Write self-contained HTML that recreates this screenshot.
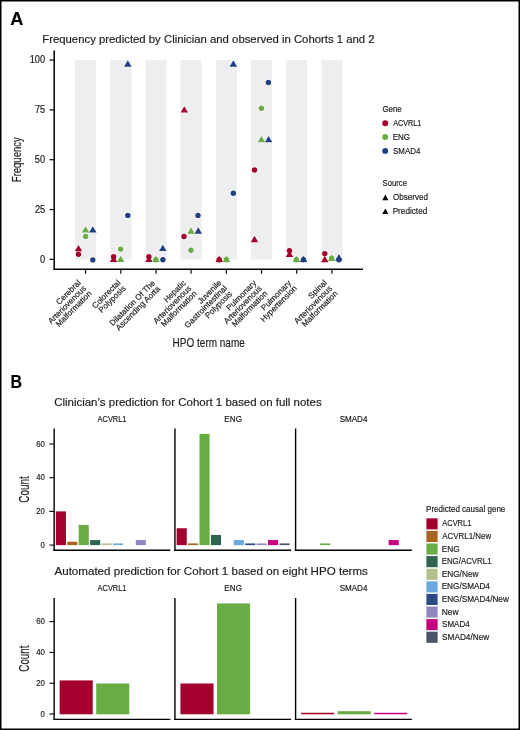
<!DOCTYPE html>
<html><head><meta charset="utf-8"><title>Figure</title>
<style>
html,body{margin:0;padding:0;background:#fff;width:520px;height:730px;overflow:hidden;}
svg{display:block;will-change:transform;}
text{font-family:"Liberation Sans", sans-serif;stroke:#1c1c1c;stroke-width:0.18px;}
</style></head><body>
<svg width="520" height="730" viewBox="0 0 520 730">
<rect x="0.75" y="0.75" width="518.5" height="728.5" fill="none" stroke="#000" stroke-width="1.5"/>
<text x="10.32" y="24.75" font-size="17.8" font-weight="bold" stroke="none" fill="#000" textLength="13.13" lengthAdjust="spacingAndGlyphs">A</text>
<text x="42.21" y="42.9" font-size="11.2" stroke-width="0.04" fill="#1c1c1c" textLength="332.45" lengthAdjust="spacingAndGlyphs">Frequency predicted by Clinician and observed in Cohorts 1 and 2</text>
<rect x="75" y="60.05" width="21" height="199.45" fill="#eeeef1"/>
<rect x="110.35" y="60.05" width="21" height="199.45" fill="#eeeef1"/>
<rect x="145.6" y="60.05" width="21" height="199.45" fill="#eeeef1"/>
<rect x="180.6" y="60.05" width="21" height="199.45" fill="#eeeef1"/>
<rect x="215.85" y="60.05" width="21" height="199.45" fill="#eeeef1"/>
<rect x="251" y="60.05" width="21" height="199.45" fill="#eeeef1"/>
<rect x="286.2" y="60.05" width="21" height="199.45" fill="#eeeef1"/>
<rect x="321.4" y="60.05" width="21" height="199.45" fill="#eeeef1"/>
<line x1="54.2" y1="50.6" x2="54.2" y2="270" stroke="#000" stroke-width="1.5"/>
<line x1="53.45" y1="269.3" x2="363" y2="269.3" stroke="#000" stroke-width="1.4"/>
<line x1="49.6" y1="259.35" x2="54" y2="259.35" stroke="#000" stroke-width="1.2"/>
<text x="39.91" y="262.7" font-size="10.0" fill="#1c1c1c" textLength="5.12" lengthAdjust="spacingAndGlyphs">0</text>
<line x1="49.6" y1="209.53" x2="54" y2="209.53" stroke="#000" stroke-width="1.2"/>
<text x="34.94" y="212.88" font-size="10.0" fill="#1c1c1c" textLength="10.23" lengthAdjust="spacingAndGlyphs">25</text>
<line x1="49.6" y1="159.7" x2="54" y2="159.7" stroke="#000" stroke-width="1.2"/>
<text x="34.8" y="163.05" font-size="10.0" fill="#1c1c1c" textLength="10.23" lengthAdjust="spacingAndGlyphs">50</text>
<line x1="49.6" y1="109.88" x2="54" y2="109.88" stroke="#000" stroke-width="1.2"/>
<text x="34.94" y="113.23" font-size="10.0" fill="#1c1c1c" textLength="10.23" lengthAdjust="spacingAndGlyphs">75</text>
<line x1="49.6" y1="60.05" x2="54" y2="60.05" stroke="#000" stroke-width="1.2"/>
<text x="29.68" y="63.4" font-size="10.0" fill="#1c1c1c" textLength="15.35" lengthAdjust="spacingAndGlyphs">100</text>
<line x1="85.5" y1="269.8" x2="85.5" y2="273.8" stroke="#000" stroke-width="1.15"/>
<line x1="120.85" y1="269.8" x2="120.85" y2="273.8" stroke="#000" stroke-width="1.15"/>
<line x1="156.1" y1="269.8" x2="156.1" y2="273.8" stroke="#000" stroke-width="1.15"/>
<line x1="191.1" y1="269.8" x2="191.1" y2="273.8" stroke="#000" stroke-width="1.15"/>
<line x1="226.35" y1="269.8" x2="226.35" y2="273.8" stroke="#000" stroke-width="1.15"/>
<line x1="261.5" y1="269.8" x2="261.5" y2="273.8" stroke="#000" stroke-width="1.15"/>
<line x1="296.7" y1="269.8" x2="296.7" y2="273.8" stroke="#000" stroke-width="1.15"/>
<line x1="331.9" y1="269.8" x2="331.9" y2="273.8" stroke="#000" stroke-width="1.15"/>
<g fill="#fff" stroke="#fff" stroke-width="1.1" stroke-linejoin="round" opacity="0.9"><circle cx="78.5" cy="254.2" r="2.7"/><path d="M78.5 244.95L82.25 251.25L74.75 251.25Z"/><circle cx="85.6" cy="236.4" r="2.7"/><path d="M85.5 226.3L89.25 232.6L81.75 232.6Z"/><circle cx="92.8" cy="259.9" r="2.7"/><path d="M92.8 226.3L96.55 232.6L89.05 232.6Z"/><circle cx="113.6" cy="256.7" r="2.7"/><path d="M113.6 255.75L117.35 262.05L109.85 262.05Z"/><circle cx="120.6" cy="249.1" r="2.7"/><path d="M120.7 255.75L124.45 262.05L116.95 262.05Z"/><circle cx="127.8" cy="215.4" r="2.7"/><path d="M127.8 60.35L131.55 66.65L124.05 66.65Z"/><circle cx="148.9" cy="256.7" r="2.7"/><path d="M148.9 255.75L152.65 262.05L145.15 262.05Z"/><circle cx="155.9" cy="259.8" r="2.7"/><path d="M155.9 255.75L159.65 262.05L152.15 262.05Z"/><circle cx="162.9" cy="259.7" r="2.7"/><path d="M162.8 244.65L166.55 250.95L159.05 250.95Z"/><circle cx="184" cy="236.5" r="2.7"/><path d="M184.3 106.25L188.05 112.55L180.55 112.55Z"/><circle cx="191" cy="250.3" r="2.7"/><path d="M191 227.35L194.75 233.65L187.25 233.65Z"/><circle cx="198" cy="215.4" r="2.7"/><path d="M198.3 227.35L202.05 233.65L194.55 233.65Z"/><circle cx="219.2" cy="259.8" r="2.7"/><path d="M219.2 255.75L222.95 262.05L215.45 262.05Z"/><circle cx="226.4" cy="259.8" r="2.7"/><path d="M226.4 255.75L230.15 262.05L222.65 262.05Z"/><circle cx="233.35" cy="193.2" r="2.7"/><path d="M233.35 60.35L237.1 66.65L229.6 66.65Z"/><circle cx="254.5" cy="169.95" r="2.7"/><path d="M254.5 235.85L258.25 242.15L250.75 242.15Z"/><circle cx="261.45" cy="108.2" r="2.7"/><path d="M261.4 136.05L265.15 142.35L257.65 142.35Z"/><circle cx="268.4" cy="82.5" r="2.7"/><path d="M268.6 136.05L272.35 142.35L264.85 142.35Z"/><circle cx="289.5" cy="250.7" r="2.7"/><path d="M289.5 250.65L293.25 256.95L285.75 256.95Z"/><circle cx="296.4" cy="259.8" r="2.7"/><path d="M296.4 255.75L300.15 262.05L292.65 262.05Z"/><circle cx="303.5" cy="259.8" r="2.7"/><path d="M303.5 255.75L307.25 262.05L299.75 262.05Z"/><circle cx="324.8" cy="253.6" r="2.7"/><path d="M324.8 255.85L328.55 262.15L321.05 262.15Z"/><circle cx="331.6" cy="258.1" r="2.7"/><path d="M331.6 254.75L335.35 261.05L327.85 261.05Z"/><circle cx="338.9" cy="259.8" r="2.7"/><path d="M338.9 254.1L342.65 260.4L335.15 260.4Z"/></g>
<circle cx="78.5" cy="254.2" r="2.7" fill="#a4002b"/>
<path d="M78.5 244.95L82.25 251.25L74.75 251.25Z" fill="#a4002b"/>
<circle cx="85.6" cy="236.4" r="2.7" fill="#69ac43"/>
<path d="M85.5 226.3L89.25 232.6L81.75 232.6Z" fill="#69ac43"/>
<circle cx="92.8" cy="259.9" r="2.7" fill="#213f80"/>
<path d="M92.8 226.3L96.55 232.6L89.05 232.6Z" fill="#213f80"/>
<circle cx="113.6" cy="256.7" r="2.7" fill="#a4002b"/>
<path d="M113.6 255.75L117.35 262.05L109.85 262.05Z" fill="#a4002b"/>
<circle cx="120.6" cy="249.1" r="2.7" fill="#69ac43"/>
<path d="M120.7 255.75L124.45 262.05L116.95 262.05Z" fill="#69ac43"/>
<circle cx="127.8" cy="215.4" r="2.7" fill="#213f80"/>
<path d="M127.8 60.35L131.55 66.65L124.05 66.65Z" fill="#213f80"/>
<circle cx="148.9" cy="256.7" r="2.7" fill="#a4002b"/>
<path d="M148.9 255.75L152.65 262.05L145.15 262.05Z" fill="#a4002b"/>
<circle cx="155.9" cy="259.8" r="2.7" fill="#69ac43"/>
<path d="M155.9 255.75L159.65 262.05L152.15 262.05Z" fill="#69ac43"/>
<circle cx="162.9" cy="259.7" r="2.7" fill="#213f80"/>
<path d="M162.8 244.65L166.55 250.95L159.05 250.95Z" fill="#213f80"/>
<circle cx="184" cy="236.5" r="2.7" fill="#a4002b"/>
<path d="M184.3 106.25L188.05 112.55L180.55 112.55Z" fill="#a4002b"/>
<circle cx="191" cy="250.3" r="2.7" fill="#69ac43"/>
<path d="M191 227.35L194.75 233.65L187.25 233.65Z" fill="#69ac43"/>
<circle cx="198" cy="215.4" r="2.7" fill="#213f80"/>
<path d="M198.3 227.35L202.05 233.65L194.55 233.65Z" fill="#213f80"/>
<circle cx="219.2" cy="259.8" r="2.7" fill="#a4002b"/>
<path d="M219.2 255.75L222.95 262.05L215.45 262.05Z" fill="#a4002b"/>
<circle cx="226.4" cy="259.8" r="2.7" fill="#69ac43"/>
<path d="M226.4 255.75L230.15 262.05L222.65 262.05Z" fill="#69ac43"/>
<circle cx="233.35" cy="193.2" r="2.7" fill="#213f80"/>
<path d="M233.35 60.35L237.1 66.65L229.6 66.65Z" fill="#213f80"/>
<circle cx="254.5" cy="169.95" r="2.7" fill="#a4002b"/>
<path d="M254.5 235.85L258.25 242.15L250.75 242.15Z" fill="#a4002b"/>
<circle cx="261.45" cy="108.2" r="2.7" fill="#69ac43"/>
<path d="M261.4 136.05L265.15 142.35L257.65 142.35Z" fill="#69ac43"/>
<circle cx="268.4" cy="82.5" r="2.7" fill="#213f80"/>
<path d="M268.6 136.05L272.35 142.35L264.85 142.35Z" fill="#213f80"/>
<circle cx="289.5" cy="250.7" r="2.7" fill="#a4002b"/>
<path d="M289.5 250.65L293.25 256.95L285.75 256.95Z" fill="#a4002b"/>
<circle cx="296.4" cy="259.8" r="2.7" fill="#69ac43"/>
<path d="M296.4 255.75L300.15 262.05L292.65 262.05Z" fill="#69ac43"/>
<circle cx="303.5" cy="259.8" r="2.7" fill="#213f80"/>
<path d="M303.5 255.75L307.25 262.05L299.75 262.05Z" fill="#213f80"/>
<circle cx="324.8" cy="253.6" r="2.7" fill="#a4002b"/>
<path d="M324.8 255.85L328.55 262.15L321.05 262.15Z" fill="#a4002b"/>
<circle cx="331.6" cy="258.1" r="2.7" fill="#69ac43"/>
<path d="M331.6 254.75L335.35 261.05L327.85 261.05Z" fill="#69ac43"/>
<circle cx="338.9" cy="259.8" r="2.7" fill="#213f80"/>
<path d="M338.9 254.1L342.65 260.4L335.15 260.4Z" fill="#213f80"/>
<g transform="translate(80.95,283.6) rotate(-45)" font-size="8.1" fill="#1c1c1c" stroke-width="0.15"><text x="-30.53" y="0">Cerebral</text><text x="-49.72" y="7.7">Arteriovenous</text><text x="-46.36" y="15.4">Malformation</text></g>
<g transform="translate(120.65,283.6) rotate(-45)" font-size="8.1" fill="#1c1c1c" stroke-width="0.15"><text x="-35.93" y="0">Colorectal</text><text x="-34.41" y="7.7">Polyposis</text></g>
<g transform="translate(155.55,283.6) rotate(-45)" font-size="8.1" fill="#1c1c1c" stroke-width="0.15"><text x="-60.45" y="0">Dilatation Of The</text><text x="-59.49" y="7.7">Ascending Aorta</text></g>
<g transform="translate(186.2,283.6) rotate(-45)" font-size="8.1" fill="#1c1c1c" stroke-width="0.15"><text x="-27.34" y="0">Hepatic</text><text x="-49.72" y="7.7">Arteriovenous</text><text x="-46.36" y="15.4">Malformation</text></g>
<g transform="translate(221.65,283.6) rotate(-45)" font-size="8.1" fill="#1c1c1c" stroke-width="0.15"><text x="-29.39" y="0">Juvenile</text><text x="-55.74" y="7.7">Gastrointestinal</text><text x="-34.41" y="15.4">Polyposis</text></g>
<g transform="translate(256.8,283.6) rotate(-45)" font-size="8.1" fill="#1c1c1c" stroke-width="0.15"><text x="-38.72" y="0">Pulmonary</text><text x="-49.72" y="7.7">Arteriovenous</text><text x="-46.36" y="15.4">Malformation</text></g>
<g transform="translate(291.7,283.6) rotate(-45)" font-size="8.1" fill="#1c1c1c" stroke-width="0.15"><text x="-38.72" y="0">Pulmonary</text><text x="-47.27" y="7.7">Hypertension</text></g>
<g transform="translate(327,283.6) rotate(-45)" font-size="8.1" fill="#1c1c1c" stroke-width="0.15"><text x="-21.98" y="0">Spinal</text><text x="-49.72" y="7.7">Arteriovenous</text><text x="-46.36" y="15.4">Malformation</text></g>
<text transform="translate(20.9,182.14) rotate(-90)" font-size="13.3" fill="#1c1c1c" textLength="44.84" lengthAdjust="spacingAndGlyphs">Frequency</text>
<text x="172.62" y="346.7" font-size="13.3" fill="#1c1c1c" textLength="72.19" lengthAdjust="spacingAndGlyphs">HPO term name</text>
<text x="382.43" y="111.6" font-size="9.0" stroke-width="0.08" fill="#1c1c1c" textLength="19.29" lengthAdjust="spacingAndGlyphs">Gene</text>
<circle cx="385.2" cy="123.25" r="2.95" fill="#a4002b"/>
<text x="393.3" y="126.25" font-size="9.0" fill="#1c1c1c" textLength="27.99" lengthAdjust="spacingAndGlyphs">ACVRL1</text>
<circle cx="385.2" cy="137.07" r="2.95" fill="#69ac43"/>
<text x="392.67" y="140.07" font-size="9.0" fill="#1c1c1c" textLength="17.43" lengthAdjust="spacingAndGlyphs">ENG</text>
<circle cx="385.2" cy="150.89" r="2.95" fill="#213f80"/>
<text x="393.05" y="153.89" font-size="9.0" fill="#1c1c1c" textLength="27.35" lengthAdjust="spacingAndGlyphs">SMAD4</text>
<text x="382.56" y="185.6" font-size="9.0" stroke-width="0.08" fill="#1c1c1c" textLength="24.45" lengthAdjust="spacingAndGlyphs">Source</text>
<path d="M385.35 194.5L388.4 200.2L382.3 200.2Z" fill="#000"/>
<text x="392.92" y="199.9" font-size="9.0" fill="#1c1c1c" textLength="35.03" lengthAdjust="spacingAndGlyphs">Observed</text>
<path d="M385.35 208.4L388.4 214.1L382.3 214.1Z" fill="#000"/>
<text x="392.66" y="213.8" font-size="9.0" fill="#1c1c1c" textLength="34.6" lengthAdjust="spacingAndGlyphs">Predicted</text>
<text x="10.6" y="387.6" font-size="17.6" font-weight="bold" stroke="none" fill="#000" textLength="11.55" lengthAdjust="spacingAndGlyphs">B</text>
<text x="54.16" y="405.6" font-size="11.3" stroke-width="0.04" fill="#1c1c1c" textLength="267.5" lengthAdjust="spacingAndGlyphs">Clinician’s prediction for Cohort 1 based on full notes</text>
<text x="54.5" y="574.7" font-size="11.3" stroke-width="0.04" fill="#1c1c1c" textLength="313.36" lengthAdjust="spacingAndGlyphs">Automated prediction for Cohort 1 based on eight HPO terms</text>
<line x1="54.15" y1="428.5" x2="54.15" y2="551" stroke="#000" stroke-width="1.4"/>
<line x1="53.45" y1="550.3" x2="170.35" y2="550.3" stroke="#000" stroke-width="1.4"/>
<text x="97.6" y="421.7" font-size="8.6" stroke-width="0.1" fill="#1c1c1c" textLength="28.9" lengthAdjust="spacingAndGlyphs">ACVRL1</text>
<rect x="55.85" y="511.4" width="10.1" height="33.7" fill="#a3002d"/>
<rect x="67.27" y="541.73" width="10.1" height="3.37" fill="#a8651f"/>
<rect x="78.69" y="524.88" width="10.1" height="20.22" fill="#69ac43"/>
<rect x="90.11" y="540.05" width="10.1" height="5.05" fill="#2f6450"/>
<rect x="101.53" y="543.42" width="10.1" height="1.68" fill="#b0bf8b"/>
<rect x="112.95" y="543.42" width="10.1" height="1.68" fill="#6aaade"/>
<rect x="135.79" y="540.05" width="10.1" height="5.05" fill="#9287c1"/>
<line x1="174.95" y1="428.5" x2="174.95" y2="551" stroke="#000" stroke-width="1.4"/>
<line x1="174.25" y1="550.3" x2="291.15" y2="550.3" stroke="#000" stroke-width="1.4"/>
<text x="224.36" y="421.7" font-size="8.6" stroke-width="0.1" fill="#1c1c1c" textLength="17.64" lengthAdjust="spacingAndGlyphs">ENG</text>
<rect x="176.65" y="528.25" width="10.1" height="16.85" fill="#a3002d"/>
<rect x="188.07" y="543.42" width="10.1" height="1.68" fill="#a8651f"/>
<rect x="199.49" y="433.89" width="10.1" height="111.21" fill="#69ac43"/>
<rect x="210.91" y="534.99" width="10.1" height="10.11" fill="#2f6450"/>
<rect x="233.75" y="540.05" width="10.1" height="5.05" fill="#6aaade"/>
<rect x="245.17" y="543.42" width="10.1" height="1.68" fill="#2b4a86"/>
<rect x="256.59" y="543.42" width="10.1" height="1.68" fill="#9287c1"/>
<rect x="268.01" y="540.05" width="10.1" height="5.05" fill="#c6007f"/>
<rect x="279.43" y="543.42" width="10.1" height="1.68" fill="#4b5369"/>
<line x1="295.6" y1="428.5" x2="295.6" y2="551" stroke="#000" stroke-width="1.4"/>
<line x1="294.9" y1="550.3" x2="411.8" y2="550.3" stroke="#000" stroke-width="1.4"/>
<text x="339.65" y="421.7" font-size="8.6" stroke-width="0.1" fill="#1c1c1c" textLength="27.75" lengthAdjust="spacingAndGlyphs">SMAD4</text>
<rect x="320.14" y="543.42" width="10.1" height="1.68" fill="#69ac43"/>
<rect x="388.66" y="540.05" width="10.1" height="5.05" fill="#c6007f"/>
<line x1="49.4" y1="545.1" x2="54" y2="545.1" stroke="#000" stroke-width="1.1"/>
<text x="40.54" y="547.75" font-size="8.8" fill="#1c1c1c" textLength="4.31" lengthAdjust="spacingAndGlyphs">0</text>
<line x1="49.4" y1="511.4" x2="54" y2="511.4" stroke="#000" stroke-width="1.1"/>
<text x="36.23" y="514.05" font-size="8.8" fill="#1c1c1c" textLength="8.61" lengthAdjust="spacingAndGlyphs">20</text>
<line x1="49.4" y1="477.7" x2="54" y2="477.7" stroke="#000" stroke-width="1.1"/>
<text x="36.23" y="480.35" font-size="8.8" fill="#1c1c1c" textLength="8.61" lengthAdjust="spacingAndGlyphs">40</text>
<line x1="49.4" y1="444" x2="54" y2="444" stroke="#000" stroke-width="1.1"/>
<text x="36.23" y="446.65" font-size="8.8" fill="#1c1c1c" textLength="8.61" lengthAdjust="spacingAndGlyphs">60</text>
<text transform="translate(29,502.76) rotate(-90)" font-size="14.4" fill="#1c1c1c" textLength="26.43" lengthAdjust="spacingAndGlyphs">Count</text>
<line x1="54.15" y1="598" x2="54.15" y2="720.1" stroke="#000" stroke-width="1.4"/>
<line x1="53.45" y1="719.4" x2="170.35" y2="719.4" stroke="#000" stroke-width="1.4"/>
<text x="97.6" y="590.7" font-size="8.6" stroke-width="0.1" fill="#1c1c1c" textLength="28.9" lengthAdjust="spacingAndGlyphs">ACVRL1</text>
<rect x="59.65" y="680.42" width="33.1" height="33.88" fill="#a3002d"/>
<rect x="96.2" y="683.5" width="33.1" height="30.8" fill="#69ac43"/>
<line x1="174.95" y1="598" x2="174.95" y2="720.1" stroke="#000" stroke-width="1.4"/>
<line x1="174.25" y1="719.4" x2="291.15" y2="719.4" stroke="#000" stroke-width="1.4"/>
<text x="224.36" y="590.7" font-size="8.6" stroke-width="0.1" fill="#1c1c1c" textLength="17.64" lengthAdjust="spacingAndGlyphs">ENG</text>
<rect x="180.45" y="683.5" width="33.1" height="30.8" fill="#a3002d"/>
<rect x="217" y="603.42" width="33.1" height="110.88" fill="#69ac43"/>
<line x1="295.6" y1="598" x2="295.6" y2="720.1" stroke="#000" stroke-width="1.4"/>
<line x1="294.9" y1="719.4" x2="411.8" y2="719.4" stroke="#000" stroke-width="1.4"/>
<text x="339.65" y="590.7" font-size="8.6" stroke-width="0.1" fill="#1c1c1c" textLength="27.75" lengthAdjust="spacingAndGlyphs">SMAD4</text>
<rect x="301.1" y="712.76" width="33.1" height="1.54" fill="#a3002d"/>
<rect x="337.65" y="711.22" width="33.1" height="3.08" fill="#69ac43"/>
<rect x="374.2" y="712.76" width="33.1" height="1.54" fill="#c6007f"/>
<line x1="49.4" y1="714" x2="54" y2="714" stroke="#000" stroke-width="1.1"/>
<text x="40.49" y="716.65" font-size="9.0" fill="#1c1c1c" textLength="4.35" lengthAdjust="spacingAndGlyphs">0</text>
<line x1="49.4" y1="683.2" x2="54" y2="683.2" stroke="#000" stroke-width="1.1"/>
<text x="36.14" y="685.85" font-size="9.0" fill="#1c1c1c" textLength="8.71" lengthAdjust="spacingAndGlyphs">20</text>
<line x1="49.4" y1="652.4" x2="54" y2="652.4" stroke="#000" stroke-width="1.1"/>
<text x="36.14" y="655.05" font-size="9.0" fill="#1c1c1c" textLength="8.71" lengthAdjust="spacingAndGlyphs">40</text>
<line x1="49.4" y1="621.6" x2="54" y2="621.6" stroke="#000" stroke-width="1.1"/>
<text x="36.14" y="624.25" font-size="9.0" fill="#1c1c1c" textLength="8.71" lengthAdjust="spacingAndGlyphs">60</text>
<text transform="translate(29.2,671.66) rotate(-90)" font-size="14.4" fill="#1c1c1c" textLength="26.13" lengthAdjust="spacingAndGlyphs">Count</text>
<text x="426.07" y="512" font-size="9.0" stroke-width="0.08" fill="#1c1c1c" textLength="79.25" lengthAdjust="spacingAndGlyphs">Predicted causal gene</text>
<rect x="426.4" y="518.3" width="11.2" height="11.1" fill="#a3002d"/>
<text x="442.3" y="526.3" font-size="9.0" fill="#1c1c1c" textLength="29" lengthAdjust="spacingAndGlyphs">ACVRL1</text>
<rect x="426.4" y="530.9" width="11.2" height="11.1" fill="#a8651f"/>
<text x="442.3" y="538.9" font-size="9.0" fill="#1c1c1c" textLength="48.8" lengthAdjust="spacingAndGlyphs">ACVRL1/New</text>
<rect x="426.4" y="543.5" width="11.2" height="11.1" fill="#69ac43"/>
<text x="441.65" y="551.5" font-size="9.0" fill="#1c1c1c" textLength="17.97" lengthAdjust="spacingAndGlyphs">ENG</text>
<rect x="426.4" y="556.1" width="11.2" height="11.1" fill="#2f6450"/>
<text x="441.69" y="564.1" font-size="9.0" fill="#1c1c1c" textLength="49.83" lengthAdjust="spacingAndGlyphs">ENG/ACVRL1</text>
<rect x="426.4" y="568.7" width="11.2" height="11.1" fill="#b0bf8b"/>
<text x="441.65" y="576.7" font-size="9.0" fill="#1c1c1c" textLength="36.85" lengthAdjust="spacingAndGlyphs">ENG/New</text>
<rect x="426.4" y="581.3" width="11.2" height="11.1" fill="#6aaade"/>
<text x="441.66" y="589.3" font-size="9.0" fill="#1c1c1c" textLength="48.24" lengthAdjust="spacingAndGlyphs">ENG/SMAD4</text>
<rect x="426.4" y="593.9" width="11.2" height="11.1" fill="#2b4a86"/>
<text x="441.66" y="601.9" font-size="9.0" fill="#1c1c1c" textLength="67.24" lengthAdjust="spacingAndGlyphs">ENG/SMAD4/New</text>
<rect x="426.4" y="606.5" width="11.2" height="11.1" fill="#9287c1"/>
<text x="441.64" y="614.5" font-size="9.0" fill="#1c1c1c" textLength="16.86" lengthAdjust="spacingAndGlyphs">New</text>
<rect x="426.4" y="619.1" width="11.2" height="11.1" fill="#c6007f"/>
<text x="442.05" y="627.1" font-size="9.0" fill="#1c1c1c" textLength="27.65" lengthAdjust="spacingAndGlyphs">SMAD4</text>
<rect x="426.4" y="631.7" width="11.2" height="11.1" fill="#4b5369"/>
<text x="442.04" y="639.7" font-size="9.0" fill="#1c1c1c" textLength="47.16" lengthAdjust="spacingAndGlyphs">SMAD4/New</text>
</svg>
</body></html>
